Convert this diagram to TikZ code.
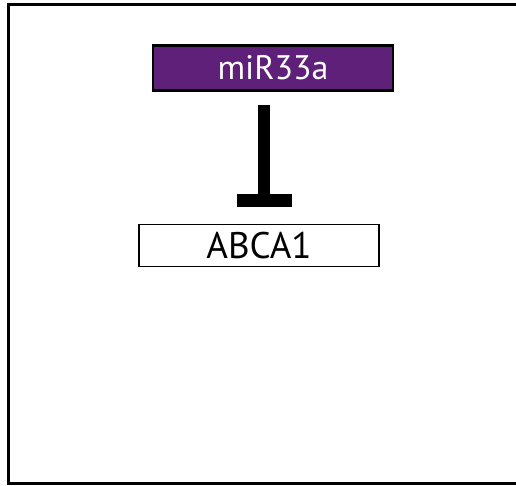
\documentclass[tikz,border=0pt]{standalone}
\usepackage{fontspec}
\setmainfont{PT Sans}
\definecolor{mirpurple}{HTML}{5E2079}
\begin{document}
\begin{tikzpicture}[x=1pt,y=-1pt,
  genebox/.style={draw=black,line width=1.8pt,minimum width=240pt,inner sep=0pt,text=black},
  mirbox/.style={draw=black,line width=2.2pt,fill=mirpurple,minimum width=240pt,minimum height=45pt,inner sep=0pt,text=white},
  inhib/.style={line width=12pt,black}]
\useasboundingbox (0,0) rectangle (516,485);
\begin{scope}
\clip (0,0) rectangle (516,485);
\draw[line width=3pt] (8,4) rectangle (530,483);
\end{scope}
\node[mirbox] (mir) at (273,68) {\raisebox{-5pt}{\fontsize{34}{34}\selectfont miR33a}};
\node[genebox,minimum height=42pt] (abca) at (259,245.5) {\raisebox{-2pt}{\fontsize{37}{37}\selectfont ABCA1}};
\coordinate (stemtop) at (264,105);
\coordinate (stembot) at (264,195);
\coordinate (barL) at (237,200.5);
\coordinate (barR) at (292,200.5);
\draw[inhib] (stemtop) -- (stembot);
\draw[line width=13pt] (barL) -- (barR);
\end{tikzpicture}
\end{document}
